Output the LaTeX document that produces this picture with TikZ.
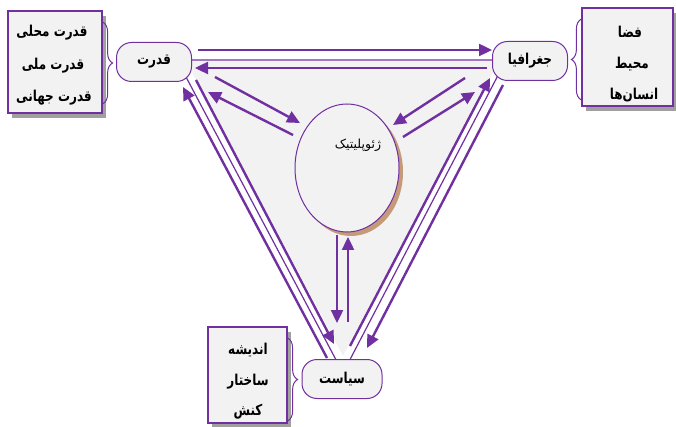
\documentclass[tikz,border=0pt]{standalone}
\usepackage{fontspec}
\newfontfamily\fa[Script=Arabic]{DejaVu Sans}
\newfontfamily\fan[Script=Arabic,FakeStretch=0.8]{DejaVu Sans}
\TeXXeTstate=1
\usetikzlibrary{arrows.meta,shapes.geometric,shadows,decorations.pathreplacing}
\definecolor{pur}{HTML}{7030A0}
\definecolor{lg}{HTML}{F2F2F2}
\definecolor{shd}{HTML}{A0A0A0}
\definecolor{brn}{HTML}{C49A78}
\newcommand{\rtl}[1]{\beginR #1\endR}
\begin{document}
\begin{tikzpicture}[x=1pt,y=-1pt,
  mainbox/.style={draw=pur, line width=1pt, fill=lg, rounded corners=15pt,
    minimum width=75pt, minimum height=39pt, inner sep=0pt,
    font=\fan\bfseries\fontsize{15}{17}\selectfont},
  sidebox/.style={draw=pur, line width=1.2pt, fill=lg, inner sep=0pt,
    drop shadow={shadow xshift=4pt, shadow yshift=-5pt, fill=shd, opacity=1}},
  boxtext/.style={inner sep=0pt, font=\fan\bfseries\fontsize{15}{17}\selectfont},
  arr/.style={draw=pur, line width=2.4pt, -{Triangle[length=13pt,width=12pt]}},
  thinline/.style={draw=pur, line width=1.2pt},
  brc/.style={draw=pur, line width=1pt, decorate, decoration={brace, amplitude=10pt}}]
\useasboundingbox (0,0) rectangle (676,427);
% background triangle
\fill[lg] (186,61) -- (499,61) -- (343,356) -- cycle;
\draw[thinline] (177,60) -- (506,60) -- (343,373) -- cycle;
% central ellipse
\node[ellipse, draw=pur, line width=1pt, fill=lg, minimum width=104pt, minimum height=128pt,
  drop shadow={shadow xshift=4pt, shadow yshift=-4pt, fill=brn, opacity=1}] (geo) at (347,168) {};
\node[font=\fa\fontsize{12.5}{14}\selectfont, inner sep=0pt] (geot) at (358,145) {\rtl{ژئوپلیتیک}};
% main nodes
\node[mainbox] (qd) at (154,62) {\rtl{قدرت}};
\node[mainbox] (jg) at (530,61) {\rtl{جغرافیا}};
\node[mainbox, minimum width=80pt] (sy) at (342,379) {\rtl{سیاست}};
% side boxes
\node[sidebox, minimum width=94pt, minimum height=102pt] (lb) at (55,62) {};
\node[boxtext] (lb1) at (52,33) {\rtl{قدرت محلی}};
\node[boxtext] (lb2) at (53,66) {\rtl{قدرت ملی}};
\node[boxtext] (lb3) at (54,98) {\rtl{قدرت جهانی}};
\node[sidebox, minimum width=91pt, minimum height=98pt] (rb) at (627.5,57) {};
\node[boxtext] (rb1) at (630,32) {\rtl{فضا}};
\node[boxtext] (rb2) at (632,64) {\rtl{محیط}};
\node[boxtext] (rb3) at (634,95) {\rtl{انسان‌ها}};
\node[sidebox, minimum width=79pt, minimum height=96pt] (bb) at (247.5,375) {};
\node[boxtext] (bb1) at (248,350) {\rtl{اندیشه}};
\node[boxtext] (bb2) at (248,382) {\rtl{ساختار}};
\node[boxtext] (bb3) at (248,412) {\rtl{کنش}};
% braces
\draw[brc] (lb.east |- 0,22) -- (lb.east |- 0,104);
\draw[brc] (rb.west |- 0,100) -- (rb.west |- 0,19);
\draw[brc] (bb.east |- 0,338) -- (bb.east |- 0,421);
% connector end points
\coordinate (t1s) at (198,50); \coordinate (t1e) at (492,50);
\coordinate (t2s) at (487,68); \coordinate (t2e) at (195,68);
\coordinate (d1s) at (215,77); \coordinate (d1e) at (300,123);
\coordinate (d2s) at (293,135); \coordinate (d2e) at (208,92);
\coordinate (d3s) at (465,78); \coordinate (d3e) at (393,125);
\coordinate (d4s) at (403,137); \coordinate (d4e) at (475,92);
\coordinate (v1s) at (337,235); \coordinate (v1e) at (337,323);
\coordinate (v2s) at (348,322); \coordinate (v2e) at (348,237);
\coordinate (l1s) at (327,358); \coordinate (l1e) at (183,87);
\coordinate (l2s) at (196,80); \coordinate (l2e) at (334,344);
\coordinate (r1s) at (350,346); \coordinate (r1e) at (490,78);
\coordinate (r2s) at (503,85); \coordinate (r2e) at (367,348);
% arrows
\draw[arr] (t1s) -- (t1e);
\draw[arr] (t2s) -- (t2e);
\draw[arr] (d1s) -- (d1e);
\draw[arr] (d2s) -- (d2e);
\draw[arr] (d3s) -- (d3e);
\draw[arr] (d4s) -- (d4e);
\draw[arr] (v1s) -- (v1e);
\draw[arr] (v2s) -- (v2e);
\draw[arr] (l1s) -- (l1e);
\draw[arr] (l2s) -- (l2e);
\draw[arr] (r1s) -- (r1e);
\draw[arr] (r2s) -- (r2e);
\end{tikzpicture}
\end{document}
